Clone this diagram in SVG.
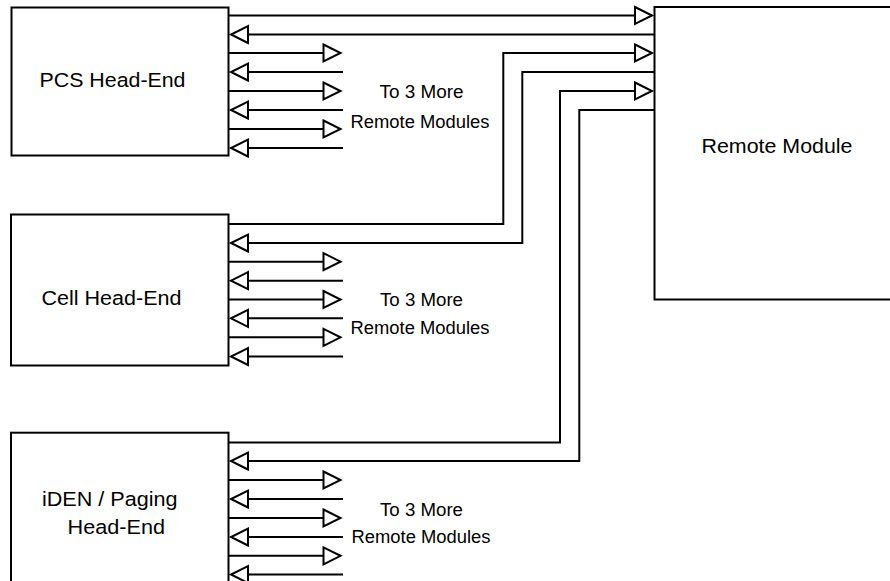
<svg xmlns="http://www.w3.org/2000/svg" width="890" height="581" viewBox="0 0 890 581">
<defs>
<style>
.box{fill:#fff;stroke:#000;stroke-width:2}
.ln{fill:none;stroke:#000;stroke-width:2}
.ar{marker-end:url(#ah)}
.lbl{font-family:"Liberation Sans",Arial,sans-serif;font-size:20.5px;fill:#000}
.sm{font-family:"Liberation Sans",Arial,sans-serif;font-size:17.5px;fill:#000}
</style>
<marker id="ah" markerUnits="userSpaceOnUse" viewBox="0 0 20 20" markerWidth="20" markerHeight="20" refX="18" refY="10" orient="auto" overflow="visible">
<path d="M1,1.5 L18,10 L1,18.5 Z" fill="#fff" stroke="#000" stroke-width="2"/>
</marker>
</defs>
<rect x="0" y="0" width="890" height="581" fill="#fff"/>
<g id="connectors">
<path class="ln ar" d="M228.5,15.5 H652"/>
<path class="ln ar" d="M654.5,34.5 H231"/>
<path class="ln ar" d="M228.5,53 H340.5"/>
<path class="ln ar" d="M343,72 H231"/>
<path class="ln ar" d="M228.5,91 H340.5"/>
<path class="ln ar" d="M343,110 H231"/>
<path class="ln ar" d="M228.5,129 H340.5"/>
<path class="ln ar" d="M343,148 H231"/>
<path class="ln ar" d="M228.5,224 H503.3 V53 H652"/>
<path class="ln ar" d="M654.5,72 H522.3 V243 H231"/>
<path class="ln ar" d="M228.5,261.7 H340.5"/>
<path class="ln ar" d="M343,280.7 H231"/>
<path class="ln ar" d="M228.5,299.5 H340.5"/>
<path class="ln ar" d="M343,318.3 H231"/>
<path class="ln ar" d="M228.5,337.3 H340.5"/>
<path class="ln ar" d="M343,356.5 H231"/>
<path class="ln ar" d="M228.5,442.5 H560 V91 H652"/>
<path class="ln ar" d="M654.5,110 H579.3 V461 H231"/>
<path class="ln ar" d="M228.5,480 H340.5"/>
<path class="ln ar" d="M343,499 H231"/>
<path class="ln ar" d="M228.5,518 H340.5"/>
<path class="ln ar" d="M343,537 H231"/>
<path class="ln ar" d="M228.5,555.8 H340.5"/>
<path class="ln ar" d="M343,574.5 H231"/>
</g>
<g id="pcs">
<rect class="box" x="11.5" y="7.5" width="217" height="148"/>
<text class="lbl" x="39.5" y="86.7" textLength="146" lengthAdjust="spacingAndGlyphs">PCS Head-End</text>
<text class="sm" x="379.5" y="98.3" textLength="84" lengthAdjust="spacingAndGlyphs">To 3 More</text>
<text class="sm" x="350.5" y="128.3" textLength="139" lengthAdjust="spacingAndGlyphs">Remote Modules</text>
</g>
<g id="cell">
<rect class="box" x="11" y="214.5" width="217.5" height="151"/>
<text class="lbl" x="41.5" y="305" textLength="140" lengthAdjust="spacingAndGlyphs">Cell Head-End</text>
<text class="sm" x="380" y="306" textLength="83" lengthAdjust="spacingAndGlyphs">To 3 More</text>
<text class="sm" x="350.5" y="334.3" textLength="139" lengthAdjust="spacingAndGlyphs">Remote Modules</text>
</g>
<g id="iden">
<rect class="box" x="11" y="432.7" width="217.5" height="200"/>
<text class="lbl" x="42" y="506" textLength="135.5" lengthAdjust="spacingAndGlyphs">iDEN / Paging</text>
<text class="lbl" x="67.5" y="534" textLength="97.5" lengthAdjust="spacingAndGlyphs">Head-End</text>
<text class="sm" x="380" y="516" textLength="83" lengthAdjust="spacingAndGlyphs">To 3 More</text>
<text class="sm" x="351.5" y="543.3" textLength="139" lengthAdjust="spacingAndGlyphs">Remote Modules</text>
</g>
<g id="remote">
<rect class="box" x="654.5" y="7" width="300" height="292.5"/>
<text class="lbl" x="701.5" y="153.3" style="font-size:21px" textLength="151" lengthAdjust="spacingAndGlyphs">Remote Module</text>
</g>
</svg>
